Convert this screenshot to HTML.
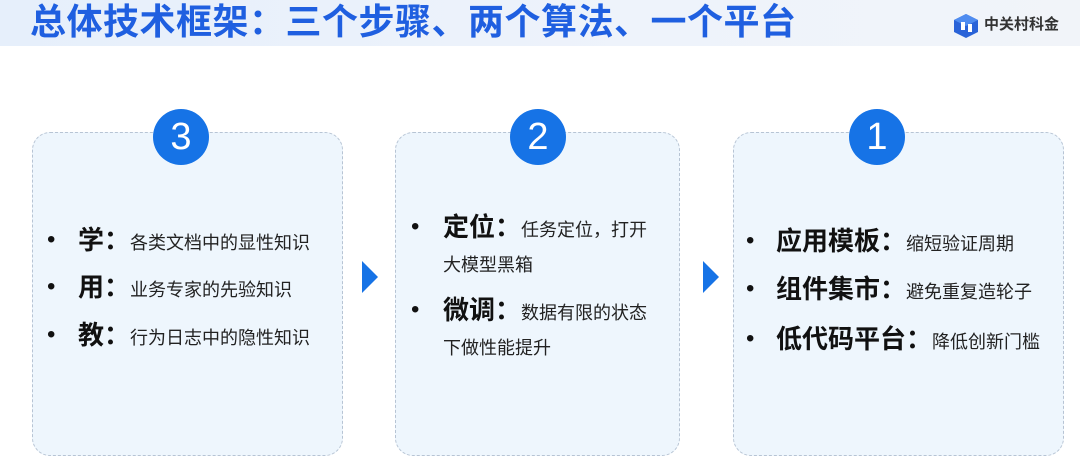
<!DOCTYPE html>
<html><head><meta charset="utf-8"><style>
*{margin:0;padding:0;box-sizing:border-box}
body{width:1080px;height:467px;background:#fff;position:relative;overflow:hidden;font-family:"Liberation Sans","Noto Sans CJK SC",sans-serif}
.band{position:absolute;left:0;top:0;width:1080px;height:46px;background:linear-gradient(90deg,#e6effb,#eef3fb 60%,#f1f4f9)}
.title{position:absolute;left:30px;top:1px;font-size:36px;font-weight:bold;color:#1f5fe0;letter-spacing:0.5px;white-space:nowrap;line-height:42px}
.logo{position:absolute;left:984px;top:16px;font-size:15px;font-weight:bold;color:#333;line-height:18px}
.box{position:absolute;top:132px;height:324px;border:1px dashed #b7c4d4;border-radius:18px;background:#eef6fd}
.circ{position:absolute;width:56px;height:56px;border-radius:50%;background:#1673e6;color:#fff;font-size:38px;text-align:center;line-height:56px;top:109px}
.arr{position:absolute;top:261px;width:0;height:0;border-top:16px solid transparent;border-bottom:16px solid transparent;border-left:16px solid #1673e6}
.row{position:absolute;white-space:nowrap;color:#222;line-height:30px}
.row b{font-size:26px;color:#111}
.row span{font-size:18px}
.dot{position:absolute;font-size:24px;color:#111;line-height:30px}
.wrap{position:absolute;font-size:18px;color:#222;line-height:30px;white-space:nowrap}
</style></head><body>
<div class="band"></div>
<div class="title">总体技术框架：三个步骤、两个算法、一个平台</div>
<svg style="position:absolute;left:953px;top:13px" width="26" height="26" viewBox="0 0 26 26"><polygon points="13,1 25,7 25,19 13,25 1,19 1,7" fill="#2a63d8"/><polygon points="13,1 25,7 13,13 1,7" fill="#4f8cf0"/><rect x="8" y="9" width="4" height="8" fill="#fff"/><rect x="15" y="11" width="4" height="8" fill="#fff"/></svg>
<div class="logo">中关村科金</div>

<div class="box" style="left:32px;width:311px"></div>
<div class="box" style="left:395px;width:285px"></div>
<div class="box" style="left:733px;width:331px"></div>
<div class="circ" style="left:153px">3</div>
<div class="circ" style="left:510px">2</div>
<div class="circ" style="left:849px">1</div>
<div class="arr" style="left:362px"></div>
<div class="arr" style="left:703px"></div>

<div class="dot" style="left:47px;top:225px">•</div>
<div class="row" style="left:78px;top:225px"><b>学：</b><span>各类文档中的显性知识</span></div>
<div class="dot" style="left:47px;top:272px">•</div>
<div class="row" style="left:78px;top:272px"><b>用：</b><span>业务专家的先验知识</span></div>
<div class="dot" style="left:47px;top:320px">•</div>
<div class="row" style="left:78px;top:320px"><b>教：</b><span>行为日志中的隐性知识</span></div>

<div class="dot" style="left:411px;top:212px">•</div>
<div class="row" style="left:443px;top:212px"><b>定位：</b><span>任务定位，打开</span></div>
<div class="wrap" style="left:443px;top:250px">大模型黑箱</div>
<div class="dot" style="left:411px;top:295px">•</div>
<div class="row" style="left:443px;top:295px"><b>微调：</b><span>数据有限的状态</span></div>
<div class="wrap" style="left:443px;top:333px">下做性能提升</div>

<div class="dot" style="left:746px;top:226px">•</div>
<div class="row" style="left:776px;top:226px"><b>应用模板：</b><span>缩短验证周期</span></div>
<div class="dot" style="left:746px;top:274px">•</div>
<div class="row" style="left:776px;top:274px"><b>组件集市：</b><span>避免重复造轮子</span></div>
<div class="dot" style="left:746px;top:324px">•</div>
<div class="row" style="left:776px;top:324px"><b>低代码平台：</b><span>降低创新门槛</span></div>
</body></html>
